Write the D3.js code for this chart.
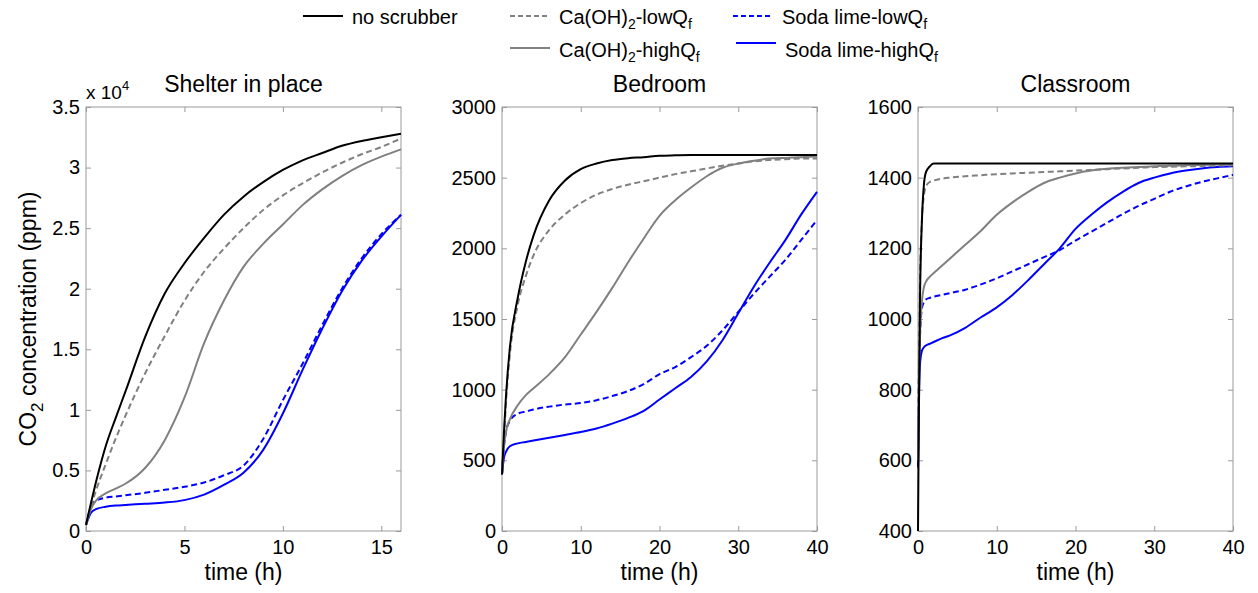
<!DOCTYPE html>
<html>
<head>
<meta charset="utf-8">
<script src="https://cdn.jsdelivr.net/npm/d3@7"></script>
<style>
body { margin: 0; background: #fff; }
text { font-family: Arial, "Liberation Sans", sans-serif; fill: #000; }
</style>
</head>
<body>
<script>
// ---- data ----
// Shelter in place (time in h, CO2 in ppm)
let shelterTime = [0, 0.25, 0.5, 1, 1.5, 2, 3, 4, 5, 6, 7, 8, 9, 10, 11, 12, 13, 14, 15, 16];
let shelterNoScrub = [500, 2300, 4000, 7000, 9300, 11500, 16000, 19600, 22100, 24200, 26100, 27600, 28800, 29800, 30600, 31200, 31800, 32200, 32500, 32800];
let shelterCaLow = [500, 2000, 3300, 5500, 7600, 9500, 13000, 16100, 19000, 21400, 23300, 25000, 26500, 27700, 28700, 29600, 30400, 31100, 31700, 32400];
let shelterCaHigh = [500, 1800, 2500, 3100, 3500, 3900, 5200, 7500, 11000, 15500, 19000, 21800, 23700, 25300, 26900, 28200, 29300, 30200, 30900, 31500];
let shelterSodaLow = [500, 2000, 2500, 2750, 2850, 2950, 3150, 3400, 3650, 4000, 4600, 5400, 7600, 10800, 13800, 17000, 20000, 22500, 24500, 26100];
let shelterSodaHigh = [500, 1500, 1800, 2000, 2100, 2150, 2250, 2350, 2550, 3000, 3800, 4800, 6700, 9700, 13300, 16700, 19800, 22300, 24300, 26100];

// Bedroom
let bedTime = [0, 0.25, 0.5, 1, 2, 3, 4, 6, 8, 10, 12, 14, 16, 18, 20, 22, 24, 26, 28, 30, 32, 34, 36, 38, 40];
let bedNoScrub = [400, 700, 950, 1300, 1650, 1900, 2090, 2340, 2480, 2560, 2600, 2625, 2638, 2645, 2655, 2658, 2660, 2660, 2660, 2660, 2660, 2660, 2660, 2660, 2660];
let bedCaLow = [400, 650, 900, 1250, 1600, 1800, 1950, 2130, 2240, 2320, 2380, 2420, 2450, 2475, 2500, 2525, 2545, 2565, 2585, 2600, 2615, 2625, 2630, 2635, 2635];
let bedCaHigh = [400, 600, 700, 790, 890, 960, 1010, 1110, 1230, 1390, 1550, 1720, 1900, 2070, 2230, 2340, 2430, 2510, 2570, 2600, 2620, 2635, 2640, 2645, 2650];
let bedSodaLow = [400, 600, 700, 780, 830, 845, 860, 880, 895, 905, 925, 955, 990, 1040, 1110, 1160, 1230, 1310, 1420, 1550, 1680, 1800, 1920, 2060, 2200];
let bedSodaHigh = [400, 520, 560, 600, 620, 630, 640, 660, 680, 700, 725, 760, 800, 850, 930, 1010, 1090, 1200, 1350, 1540, 1730, 1900, 2060, 2240, 2400];

// Classroom
let classTime = [0, 0.1, 0.25, 0.5, 0.75, 1, 1.5, 2, 3, 4, 6, 8, 10, 12, 14, 16, 18, 20, 22, 24, 26, 28, 30, 32, 34, 36, 38, 40];
let classNoScrub = [400, 700, 1050, 1280, 1380, 1415, 1432, 1440, 1440, 1440, 1440, 1440, 1440, 1440, 1440, 1440, 1440, 1440, 1440, 1440, 1440, 1440, 1440, 1440, 1440, 1440, 1440, 1440];
let classCaLow = [600, 850, 1100, 1280, 1350, 1375, 1388, 1392, 1397, 1400, 1404, 1407, 1410, 1412, 1414, 1416, 1418, 1420, 1422, 1424, 1426, 1428, 1430, 1431, 1432, 1433, 1434, 1435];
let classCaHigh = [600, 800, 950, 1050, 1090, 1105, 1120, 1130, 1150, 1170, 1210, 1250, 1295, 1330, 1360, 1385, 1400, 1412, 1420, 1425, 1428, 1430, 1432, 1434, 1435, 1436, 1437, 1438];
let classSodaLow = [600, 800, 950, 1030, 1048, 1055, 1060, 1063, 1068, 1073, 1083, 1098, 1115, 1135, 1155, 1175, 1195, 1222, 1247, 1272, 1297, 1320, 1340, 1360, 1375, 1388, 1398, 1408];
let classSodaHigh = [580, 750, 870, 910, 920, 925, 930, 935, 945, 953, 975, 1005, 1033, 1068, 1110, 1155, 1200, 1255, 1295, 1330, 1360, 1385, 1400, 1412, 1420, 1426, 1430, 1432];

// ticks
let shelterXTicks = [0, 5, 10, 15];
let roomXTicks = [0, 10, 20, 30, 40];
let shelterYTicks = [0, 5000, 10000, 15000, 20000, 25000, 30000, 35000];
let bedYTicks = [0, 500, 1000, 1500, 2000, 2500, 3000];
let classYTicks = [400, 600, 800, 1000, 1200, 1400, 1600];

let panelTitles = ['Shelter in place', 'Bedroom', 'Classroom'];

// ---- layout ----
const W = 1258, H = 593;
const plotTop = 107, plotBottom = 531, pw = 315;
const panelLeft = [86, 502, 918];
const frameColor = '#9a9a9a';

const styles = {
  noScrub: { color: '#000000', dash: null },
  caLow: { color: '#808080', dash: '6,3.5' },
  caHigh: { color: '#808080', dash: null },
  sodaLow: { color: '#0000ff', dash: '6,3.5' },
  sodaHigh: { color: '#0000ff', dash: null }
};
const drawOrder = ['sodaHigh', 'sodaLow', 'caHigh', 'caLow', 'noScrub'];

let panels = [
  { time: shelterTime, xDomain: [0, 16], xTicks: shelterXTicks, yDomain: [0, 35000], yTicks: shelterYTicks,
    yFormat: d => d / 10000,
    series: { noScrub: shelterNoScrub, caLow: shelterCaLow, caHigh: shelterCaHigh, sodaLow: shelterSodaLow, sodaHigh: shelterSodaHigh } },
  { time: bedTime, xDomain: [0, 40], xTicks: roomXTicks, yDomain: [0, 3000], yTicks: bedYTicks,
    yFormat: d => d,
    series: { noScrub: bedNoScrub, caLow: bedCaLow, caHigh: bedCaHigh, sodaLow: bedSodaLow, sodaHigh: bedSodaHigh } },
  { time: classTime, xDomain: [0, 40], xTicks: roomXTicks, yDomain: [400, 1600], yTicks: classYTicks,
    yFormat: d => d,
    series: { noScrub: classNoScrub, caLow: classCaLow, caHigh: classCaHigh, sodaLow: classSodaLow, sodaHigh: classSodaHigh } }
];

let svg = d3.select('body').append('svg')
  .attr('width', W)
  .attr('height', H);

function styleAxis(g) {
  g.selectAll('.domain').remove();
  g.selectAll('.tick line').attr('stroke', frameColor);
  g.selectAll('.tick text').attr('font-size', '20px').attr('fill', '#000')
    .attr('font-family', 'Arial, "Liberation Sans", sans-serif');
}

panels.forEach((p, i) => {
  let x = d3.scaleLinear().domain(p.xDomain).range([panelLeft[i], panelLeft[i] + pw]);
  let y = d3.scaleLinear().domain(p.yDomain).range([plotBottom, plotTop]);
  let g = svg.append('g');

  // axes with inward ticks, mirrored on top/right
  g.append('g').attr('transform', `translate(0,${plotBottom})`)
    .call(d3.axisBottom(x).tickValues(p.xTicks).tickSizeInner(-5).tickSizeOuter(0).tickPadding(9))
    .call(styleAxis);
  g.append('g').attr('transform', `translate(0,${plotTop})`)
    .call(d3.axisTop(x).tickValues(p.xTicks).tickSizeInner(-5).tickSizeOuter(0).tickFormat(''))
    .call(styleAxis);
  g.append('g').attr('transform', `translate(${panelLeft[i]},0)`)
    .call(d3.axisLeft(y).tickValues(p.yTicks).tickSizeInner(-5).tickSizeOuter(0).tickPadding(6).tickFormat(p.yFormat))
    .call(styleAxis);
  g.append('g').attr('transform', `translate(${panelLeft[i] + pw},0)`)
    .call(d3.axisRight(y).tickValues(p.yTicks).tickSizeInner(-5).tickSizeOuter(0).tickFormat(''))
    .call(styleAxis);

  // frame
  g.append('rect')
    .attr('x', panelLeft[i]).attr('y', plotTop)
    .attr('width', pw).attr('height', plotBottom - plotTop)
    .attr('fill', 'none').attr('stroke', frameColor).attr('stroke-width', 1);

  // curves
  let line = d3.line()
    .x((d, k) => x(p.time[k]))
    .y(d => y(d))
    .curve(d3.curveMonotoneX);
  drawOrder.forEach(key => {
    g.append('path')
      .datum(p.series[key])
      .attr('d', line)
      .attr('fill', 'none')
      .attr('stroke', styles[key].color)
      .attr('stroke-width', 2)
      .attr('stroke-dasharray', styles[key].dash);
  });

  // title and x label
  g.append('text')
    .attr('x', panelLeft[i] + pw / 2).attr('y', 92)
    .attr('text-anchor', 'middle').attr('font-size', '23px')
    .text(panelTitles[i]);
  g.append('text')
    .attr('x', panelLeft[i] + pw / 2).attr('y', 580)
    .attr('text-anchor', 'middle').attr('font-size', '23px')
    .text('time (h)');
});

// "x 10^4" exponent label
let ex = svg.append('text').attr('x', 86).attr('y', 99).attr('font-size', '19px');
ex.append('tspan').text('x 10');
ex.append('tspan').attr('dy', -9).attr('font-size', '13px').text('4');

// y label
let yl = svg.append('text')
  .attr('transform', 'translate(36,319) rotate(-90)')
  .attr('text-anchor', 'middle')
  .attr('font-size', '23px');
yl.append('tspan').text('CO');
yl.append('tspan').attr('dy', 7).attr('font-size', '17px').text('2');
yl.append('tspan').attr('dy', -7).text(' concentration (ppm)');

// legend
let legendItems = [
  { key: 'noScrub', x: 303, y: 16, ty: 24, parts: [['no scrubber', false]] },
  { key: 'caLow', x: 510, y: 16, ty: 24, parts: [['Ca(OH)', false], ['2', true], ['-lowQ', false], ['f', true]] },
  { key: 'caHigh', x: 510, y: 48, ty: 57, parts: [['Ca(OH)', false], ['2', true], ['-highQ', false], ['f', true]] },
  { key: 'sodaLow', x: 733, y: 16, ty: 24, parts: [['Soda lime-lowQ', false], ['f', true]] },
  { key: 'sodaHigh', x: 736, y: 43, ty: 57, parts: [['Soda lime-highQ', false], ['f', true]] }
];
legendItems.forEach(it => {
  svg.append('line')
    .attr('x1', it.x).attr('x2', it.x + 40)
    .attr('y1', it.y).attr('y2', it.y)
    .attr('stroke', styles[it.key].color)
    .attr('stroke-width', 2)
    .attr('stroke-dasharray', styles[it.key].dash ? '5,3' : null);
  let t = svg.append('text').attr('x', it.x + 49).attr('y', it.ty).attr('font-size', '20px');
  let shifted = false;
  it.parts.forEach(([s, sub]) => {
    let ts = t.append('tspan').text(s);
    if (sub && !shifted) { ts.attr('dy', 5).attr('font-size', '14px'); shifted = true; }
    else if (!sub && shifted) { ts.attr('dy', -5); shifted = false; }
  });
});
</script>
</body>
</html>
